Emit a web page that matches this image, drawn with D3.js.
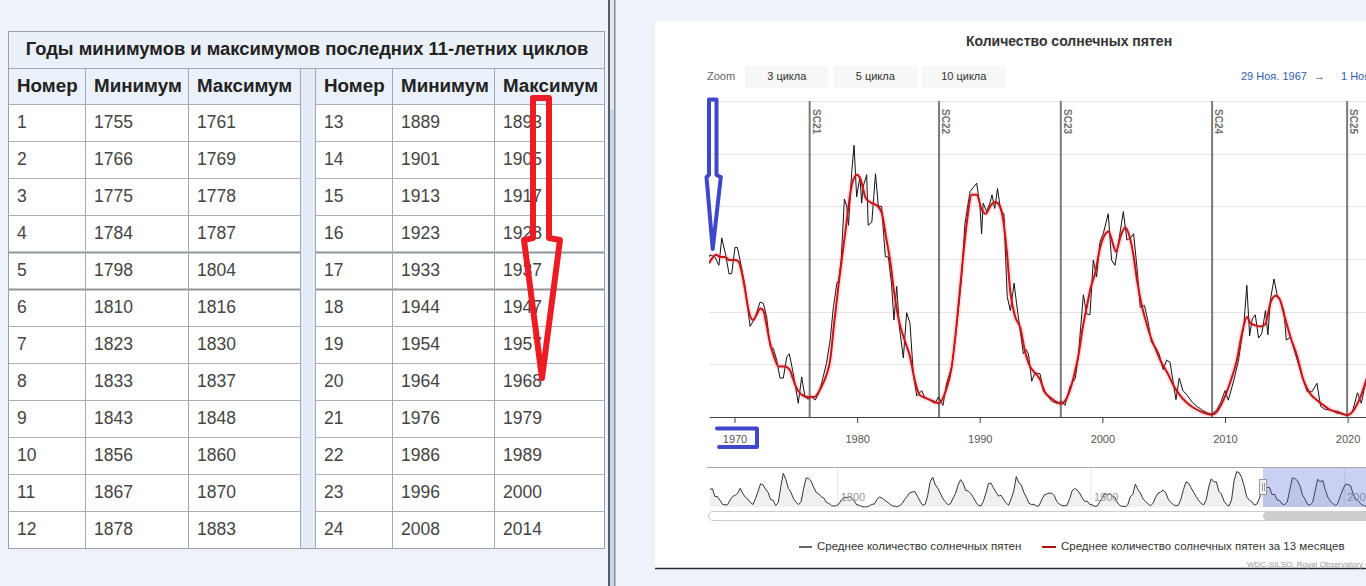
<!DOCTYPE html>
<html><head><meta charset="utf-8">
<script src="https://cdn.jsdelivr.net/npm/d3@7"></script>
<style>
html,body{margin:0;padding:0;background:#eef3fa;overflow:hidden}
svg{display:block}
text{font-family:"Liberation Sans",Arial,sans-serif}
</style></head><body>
<svg id="c" width="1366" height="586"></svg>
<script>
// ---------------- DATA ----------------
const tableTitle = "Годы минимумов и максимумов последних 11-летних циклов";
const tableHeaders = ["Номер", "Минимум", "Максимум"];
const cycleNumbers = [1,2,3,4,5,6,7,8,9,10,11,12,13,14,15,16,17,18,19,20,21,22,23,24];
const cycleMinima = [1755,1766,1775,1784,1798,1810,1823,1833,1843,1856,1867,1878,1889,1901,1913,1923,1933,1944,1954,1964,1976,1986,1996,2008];
const cycleMaxima = [1761,1769,1778,1787,1804,1816,1830,1837,1848,1860,1870,1883,1893,1905,1917,1928,1937,1947,1957,1968,1979,1989,2000,2014];

const chartTitle = "Количество солнечных пятен";
const zoomButtons = ["3 цикла", "5 цикла", "10 цикла"];
const rangeFrom = "29 Ноя. 1967";
const rangeTo = "1 Ноя. 2021";
const seriesNames = ["Среднее количество солнечных пятен", "Среднее количество солнечных пятен за 13 месяцев"];
const xTicks = [1970, 1980, 1990, 2000, 2010, 2020];
const yGrid = [50, 100, 150, 200, 250, 300];
const cycleLabels = ["SC21", "SC22", "SC23", "SC24", "SC25"];
const cycleStarts = [1976.13, 1986.68, 1996.61, 2008.95, 2019.96];
const navTicks = [1800, 1900, 2000];

// monthly mean (grouped) sunspot number: [year, value]
const meanSeries = [
[1967.92,152],[1968.0,154],[1968.4,152],[1968.73,144],[1968.96,170],[1969.28,154],[1969.55,136],[1969.77,136],
[1970.04,161],[1970.23,161],[1970.45,149],[1970.86,124],[1971.27,86],[1971.67,94],[1972.08,109],[1972.35,108],
[1972.62,95],[1972.9,67],[1973.17,65],[1973.44,54],[1973.71,37],[1973.98,37],[1974.26,57],[1974.47,60],
[1974.8,41],[1975.2,13],[1975.48,38],[1975.75,19],[1976.0,17],[1976.3,19],[1976.57,16],[1976.85,22],
[1977.1,32],[1977.5,51],[1977.8,73],[1978.07,105],[1978.35,127],[1978.5,130],[1978.7,149],[1978.96,207],
[1979.15,200],[1979.3,182],[1979.55,231],[1979.75,258],[1979.96,209],[1980.23,228],[1980.37,203],[1980.5,219],
[1980.78,230],[1980.9,182],[1981.2,185],[1981.5,231],[1981.73,200],[1982.0,200],[1982.3,152],[1982.55,152],
[1982.8,127],[1983.0,92],[1983.23,124],[1983.44,86],[1983.77,56],[1984.04,99],[1984.31,89],[1984.58,41],
[1984.86,20],[1985.27,25],[1985.5,19],[1985.9,16],[1986.35,13],[1986.63,19],[1987.0,11],[1987.3,32],
[1987.72,48],[1988.12,86],[1988.5,130],[1988.8,184],[1989.21,214],[1989.48,218],[1989.75,222],[1990.02,200],
[1990.15,174],[1990.28,203],[1990.56,195],[1990.83,203],[1991.0,211],[1991.22,198],[1991.45,217],[1991.7,196],
[1991.97,193],[1992.24,114],[1992.5,101],[1992.8,127],[1993.0,108],[1993.29,83],[1993.56,60],[1993.78,64],
[1993.97,60],[1994.24,34],[1994.51,42],[1994.92,41],[1995.2,24],[1995.47,21],[1995.87,15],[1996.28,13],
[1996.68,15],[1996.95,11],[1997.36,29],[1997.8,37],[1998.04,58],[1998.45,116],[1998.72,98],[1998.99,97],
[1999.26,149],[1999.53,133],[1999.8,166],[2000.07,174],[2000.48,193],[2000.75,149],[2001.03,144],[2001.35,168],
[2001.71,195],[2002.0,168],[2002.3,170],[2002.55,174],[2002.82,142],[2003.09,104],[2003.43,106],[2003.7,92],
[2004.0,71],[2004.35,66],[2004.62,60],[2004.96,45],[2005.24,54],[2005.52,52],[2005.76,34],[2006.0,16.5],
[2006.27,37],[2006.57,25],[2006.9,21],[2007.33,14],[2007.73,10],[2008.14,6.5],[2008.55,4],[2008.92,2.5],
[2009.32,6.6],[2009.66,14],[2010.0,25],[2010.27,16],[2010.68,33],[2011.09,53],[2011.37,75],[2011.55,89],
[2011.78,125],[2012.01,77],[2012.22,93],[2012.47,97],[2012.74,75],[2013.0,79],[2013.3,101],[2013.5,78],
[2013.7,111],[2014.0,131],[2014.25,116],[2014.5,111],[2014.8,101],[2015.0,73],[2015.34,76],[2015.74,60],
[2016.3,38],[2016.7,24],[2017.1,24],[2017.5,32],[2017.8,10],[2018.2,7],[2018.6,7],[2019.15,3.5],
[2019.56,3.5],[2019.97,1],[2020.4,5],[2020.8,23],[2021.12,13],[2021.5,35],[2021.75,45]
];

// 13-month smoothed sunspot number: [year, value]
const smoothSeries = [
[1967.92,146],[1968.2,151],[1968.5,154],[1968.8,152],[1969.2,152],[1969.6,149],[1970.0,149],[1970.3,148],
[1970.6,137],[1970.9,118],[1971.1,104],[1971.5,92],[1971.8,97],[1972.1,103],[1972.35,101],[1972.6,88],
[1972.9,70],[1973.2,58],[1973.6,48],[1974.1,48],[1974.5,45],[1974.75,37],[1975.0,29],[1975.5,21],
[1976.0,19],[1976.5,19],[1977.1,29],[1977.5,40],[1977.8,54],[1978.1,86],[1978.5,127],[1979.05,177],
[1979.6,222],[1980.0,230],[1980.3,225],[1980.7,208],[1981.2,203],[1981.6,201],[1982.0,194],[1982.4,168],
[1982.7,148],[1983.0,120],[1983.4,92],[1983.9,72],[1984.3,58],[1984.7,35],[1985.1,21],[1985.6,18],
[1986.2,15],[1986.68,13],[1987.2,24],[1987.72,48],[1988.12,89],[1988.5,135],[1988.94,184],[1989.35,211],
[1989.75,211],[1990.16,197],[1990.5,193],[1990.85,200],[1991.25,204],[1991.55,202],[1991.9,188],[1992.2,158],
[1992.5,118],[1992.9,95],[1993.3,85],[1993.7,62],[1994.1,48],[1994.5,42],[1994.9,36],[1995.3,24],
[1995.8,18],[1996.3,14],[1996.6,12.5],[1997.1,18],[1997.4,27],[1997.7,40],[1998.04,58],[1998.4,85],
[1998.72,104],[1999.1,125],[1999.4,136],[1999.8,160],[2000.2,173],[2000.5,176],[2000.9,163],[2001.1,157],
[2001.5,172],[2001.85,180],[2002.2,172],[2002.5,156],[2002.85,128],[2003.25,104],[2003.6,89],[2004.0,74],
[2004.4,63],[2004.8,52],[2005.3,42],[2005.8,30],[2006.3,21],[2006.85,14],[2007.4,9],[2007.95,5.5],
[2008.5,3],[2008.92,2.2],[2009.33,5],[2009.87,16],[2010.4,32],[2010.97,54],[2011.38,79],[2011.8,95],
[2012.07,89],[2012.47,87],[2012.88,86],[2013.28,88],[2013.7,108],[2014.1,115],[2014.3,114],[2014.5,111],
[2014.8,98],[2015.34,76],[2015.9,57],[2016.4,35],[2016.96,22],[2017.5,16],[2018.05,11],[2018.6,6.6],
[2019.15,5],[2019.7,2.5],[2020.0,1.8],[2020.5,6.6],[2021.05,19],[2021.5,34],[2021.75,42]
];

// navigator: yearly mean sunspot number from 1749
const navStartYear = 1749;
const navValues = [
134.7,139.0,79.5,79.7,51.2,20.3,16.0,17.0,54.0,79.3,90.0,
104.8,143.2,102.0,75.2,60.7,34.8,19.0,63.0,116.3,176.8,
168.0,136.0,110.8,58.0,51.0,11.7,33.0,154.2,257.3,209.8,
141.3,113.5,64.2,38.0,17.0,40.2,138.2,220.0,218.2,196.8,
149.8,111.0,100.0,78.2,68.3,35.5,26.7,10.7,6.8,11.3,
24.2,56.7,75.0,71.8,79.2,70.3,46.8,16.8,13.5,4.2,
0.0,2.3,8.3,20.3,23.2,59.0,76.3,68.3,52.9,38.5,
24.2,9.2,6.3,2.2,11.4,28.2,59.9,83.0,108.5,115.2,
117.4,80.8,44.3,13.4,19.5,85.8,192.7,227.3,168.7,143.0,
105.5,63.3,40.3,18.1,25.1,65.8,102.7,166.3,208.3,182.5,
126.3,122.0,102.7,74.1,39.0,12.7,8.2,43.4,104.4,178.3,
182.2,146.6,112.1,83.5,89.2,57.8,30.7,13.9,62.8,123.6,
232.0,185.3,169.2,110.1,74.5,28.3,18.9,20.7,5.7,10.0,
53.7,90.5,99.0,106.1,105.8,86.3,42.4,21.8,11.2,10.4,
11.8,59.5,121.7,142.0,130.0,106.6,69.4,43.8,44.4,20.2,
15.7,4.6,8.5,40.8,70.1,105.5,90.1,102.8,80.9,73.2,
30.9,9.5,6.0,2.4,16.1,79.0,95.0,173.6,134.6,105.7,
62.7,43.5,23.7,9.7,27.9,74.0,106.5,114.7,129.7,108.2,
59.4,35.1,18.6,9.2,14.6,60.2,132.8,190.6,182.6,148.0,
113.0,79.2,50.8,27.1,16.1,55.3,154.3,214.7,193.0,190.7,
118.9,98.3,45.0,20.1,6.6,54.2,200.7,269.3,261.7,225.1,
159.0,76.4,53.4,39.9,15.0,22.0,66.8,132.9,150.0,149.4,
148.0,94.4,97.6,54.1,49.2,22.5,18.4,39.3,131.0,220.1,
218.9,198.9,162.4,91.0,60.5,20.6,14.8,33.9,123.0,211.1,
191.8,203.3,133.0,76.1,44.9,25.1,11.6,28.9,88.3,136.3,
173.9,170.4,163.6,99.3,65.3,45.8,24.7,12.6,4.2,4.8,
24.9,80.8,84.5,94.0,113.3,69.8,39.8,21.7,7.0,3.6,
8.8,29.6
];
const viewStart = 1967.92, viewEnd = 2021.5;

// hand-drawn annotation overlays (screen pixels)
const redArrow = [[533,98],[549,98],[549,238],[560,240],[542,378],[524,240],[533,238]];
const blueArrow = [[709,99.5],[716.5,99.5],[716.5,175],[720.8,177],[712.7,249],[706.5,177],[709,175]];
const blueBracket = [[717,428.5],[757,428.5],[757,447],[719,447]];

// ---------------- DRAW ----------------
const W = 1366, H = 586;
const svg = d3.select("#c");
svg.append("rect").attr("width", W).attr("height", H).attr("fill", "#eef3fa");

// ---- Table ----
const T = {left: 8, right: 604, top: 31, titleB: 68, headB: 104, rowH: 37};
const groups = [{cols: [8, 85, 188, 300], off: 0}, {cols: [315, 392, 494, 604], off: 12}];
const tg = svg.append("g");
const bottom = T.headB + 12 * T.rowH;
tg.append("rect").attr("x", T.left).attr("y", T.top).attr("width", T.right - T.left).attr("height", T.titleB - T.top).attr("fill", "#eaf0f8");
tg.append("rect").attr("x", 300).attr("y", T.titleB).attr("width", 15).attr("height", bottom - T.titleB).attr("fill", "#e3ecf8");
groups.forEach(g => {
  const c = g.cols, a = c[0], d = c[3];
  tg.append("rect").attr("x", a).attr("y", T.titleB).attr("width", d - a).attr("height", T.headB - T.titleB).attr("fill", "#eaf1fb");
  tg.append("rect").attr("x", a).attr("y", T.headB).attr("width", d - a).attr("height", bottom - T.headB).attr("fill", "#fff");
  for (let i = 0; i <= 12; i++) {
    const yy = T.headB + T.rowH * i;
    const thick = (i === 4 || i === 5);
    tg.append("line").attr("x1", a).attr("x2", d).attr("y1", yy + 0.5).attr("y2", yy + 0.5)
      .attr("stroke", thick ? "#8f959c" : "#a9b0b8").attr("stroke-width", thick ? 2 : 1);
  }
  c.forEach(cx => tg.append("line").attr("x1", cx + 0.5).attr("x2", cx + 0.5).attr("y1", T.titleB).attr("y2", bottom)
    .attr("stroke", "#a2a9b1"));
  tableHeaders.forEach((h, j) => tg.append("text").attr("x", c[j] + 9).attr("y", (T.titleB + T.headB) / 2 + 1)
    .attr("dominant-baseline", "middle").attr("font-size", 18.8).attr("font-weight", "bold").attr("fill", "#222").text(h));
  for (let i = 0; i < 12; i++) {
    const r = g.off + i;
    const vals = [cycleNumbers[r], cycleMinima[r], cycleMaxima[r]];
    vals.forEach((v, j) => tg.append("text").attr("x", c[j] + 9).attr("y", T.headB + T.rowH * i + T.rowH / 2 + 1)
      .attr("dominant-baseline", "middle").attr("font-size", 17.5).attr("fill", "#444").text(v));
  }
});
tg.append("line").attr("x1", T.left).attr("x2", T.right).attr("y1", T.titleB + 0.5).attr("y2", T.titleB + 0.5).attr("stroke", "#a2a9b1");
tg.append("rect").attr("x", T.left + 0.5).attr("y", T.top + 0.5).attr("width", T.right - T.left).attr("height", bottom - T.top)
  .attr("fill", "none").attr("stroke", "#9aa1a9");
tg.append("text").attr("x", (T.left + T.right) / 2 + 1).attr("y", (T.top + T.titleB) / 2 + 1).attr("text-anchor", "middle")
  .attr("dominant-baseline", "middle").attr("font-size", 18.4).attr("font-weight", "bold").attr("fill", "#222").text(tableTitle);

// ---- window separator ----
svg.append("rect").attr("x", 608).attr("y", 0).attr("width", 2).attr("height", H).attr("fill", "#5c5c5c");
svg.append("rect").attr("x", 610).attr("y", 0).attr("width", 4).attr("height", H).attr("fill", "#dde7f5");
svg.append("rect").attr("x", 610).attr("y", 110).attr("width", 4).attr("height", H - 110).attr("fill", "#c6d6ee");
svg.append("rect").attr("x", 614).attr("y", 0).attr("width", 1.5).attr("height", H).attr("fill", "#8a8a8a");

// ---- chart box ----
svg.append("rect").attr("x", 655).attr("y", 21).attr("width", W - 655).attr("height", 547).attr("fill", "#fff");
svg.append("line").attr("x1", 655).attr("x2", W).attr("y1", 568.5).attr("y2", 568.5).attr("stroke", "#2a2a2a").attr("stroke-width", 1.5);

svg.append("text").attr("x", 1069).attr("y", 42).attr("text-anchor", "middle").attr("dominant-baseline", "middle")
  .attr("font-size", 14).attr("font-weight", "bold").attr("fill", "#333").text(chartTitle);

// range selector
svg.append("text").attr("x", 707).attr("y", 77).attr("dominant-baseline", "middle").attr("font-size", 11).attr("fill", "#666").text("Zoom");
const btnX = [745, 833.5, 922];
zoomButtons.forEach((b, i) => {
  svg.append("rect").attr("x", btnX[i]).attr("y", 66).attr("width", 83.5).attr("height", 22).attr("fill", "#f7f7f7");
  svg.append("text").attr("x", btnX[i] + 41.75).attr("y", 77).attr("text-anchor", "middle").attr("dominant-baseline", "middle")
    .attr("font-size", 11).attr("fill", "#333").text(b);
});
svg.append("text").attr("x", 1241).attr("y", 77).attr("dominant-baseline", "middle").attr("font-size", 11).attr("fill", "#335cad").text(rangeFrom);
svg.append("text").attr("x", 1314).attr("y", 77).attr("dominant-baseline", "middle").attr("font-size", 11).attr("fill", "#444").text("→");
svg.append("text").attr("x", 1341).attr("y", 77).attr("dominant-baseline", "middle").attr("font-size", 11).attr("fill", "#335cad").text(rangeTo);

// scales
const x = d3.scaleLinear().domain([viewStart, viewEnd]).range([709, 1366]);
const y = d3.scaleLinear().domain([0, 300]).range([417, 101]);

svg.append("clipPath").attr("id", "plotClip").append("rect").attr("x", 709).attr("y", 90).attr("width", 660).attr("height", 335);

// grid
svg.append("g").selectAll("line").data(yGrid).join("line")
  .attr("x1", 709).attr("x2", W).attr("y1", d => Math.round(y(d)) + 0.5).attr("y2", d => Math.round(y(d)) + 0.5)
  .attr("stroke", "#e3e3e3");

// cycle lines
const cl = svg.append("g");
cl.selectAll("line").data(cycleStarts).join("line")
  .attr("x1", d => x(d)).attr("x2", d => x(d)).attr("y1", y(300)).attr("y2", y(0))
  .attr("stroke", "#7a7a7a").attr("stroke-width", 2);
cl.selectAll("text").data(cycleStarts).join("text")
  .attr("transform", d => `translate(${x(d) + 3},109) rotate(90)`)
  .attr("font-size", 10).attr("font-weight", "bold").attr("fill", "#707070")
  .text((d, i) => cycleLabels[i]);

// axis
const ax = svg.append("g").attr("transform", "translate(0,417)")
  .call(d3.axisBottom(x).tickValues(xTicks).tickFormat(d3.format("d")).tickSize(6).tickSizeOuter(0).tickPadding(12));
ax.select(".domain").attr("stroke", "#444");
ax.selectAll(".tick line").attr("stroke", "#444");
ax.selectAll(".tick text").attr("font-size", 11).attr("fill", "#555").attr("font-family", '"Liberation Sans", Arial, sans-serif');

// series
const lineGen = d3.line().x(d => x(d[0])).y(d => y(d[1]));
svg.append("path").datum(meanSeries).attr("clip-path", "url(#plotClip)").attr("d", lineGen)
  .attr("fill", "none").attr("stroke", "#111").attr("stroke-width", 1).attr("stroke-linejoin", "round");
const smoothGen = d3.line().x(d => x(d[0])).y(d => y(d[1])).curve(d3.curveMonotoneX);
svg.append("path").datum(smoothSeries).attr("clip-path", "url(#plotClip)").attr("d", smoothGen)
  .attr("fill", "none").attr("stroke", "rgba(255,60,60,0.16)").attr("stroke-width", 5.5).attr("stroke-linejoin", "round");
svg.append("path").datum(smoothSeries).attr("clip-path", "url(#plotClip)").attr("d", smoothGen)
  .attr("fill", "none").attr("stroke", "#c4161c").attr("stroke-width", 2).attr("stroke-linejoin", "round");

// navigator
const nx = d3.scaleLinear().domain([1900, 2000]).range([1091, 1344.25]);
const ny = d3.scaleLinear().domain([0, 305]).range([507, 467]);
const navData = navValues.map((v, i) => [navStartYear + i + 0.5, v]);
svg.append("clipPath").attr("id", "navClip").append("rect").attr("x", 707).attr("y", 460).attr("width", 662).attr("height", 50);
const ng = svg.append("g").attr("clip-path", "url(#navClip)");
ng.selectAll("line.g").data(navTicks).join("line").attr("class", "g")
  .attr("x1", d => nx(d)).attr("x2", d => nx(d)).attr("y1", 467).attr("y2", 507).attr("stroke", "#e6e6e6");
ng.append("path").datum(navData).attr("d", d3.area().x(d => nx(d[0])).y0(507).y1(d => ny(d[1])))
  .attr("fill", "rgba(0,0,0,0.06)");
ng.append("path").datum(navData).attr("d", d3.line().x(d => nx(d[0])).y(d => ny(d[1])))
  .attr("fill", "none").attr("stroke", "#333").attr("stroke-width", 1);
ng.selectAll("text").data(navTicks).join("text").attr("x", d => nx(d) + 3).attr("y", 501)
  .attr("font-size", 11).attr("fill", "#999").text(d => d);
ng.append("rect").attr("x", nx(viewStart)).attr("y", 467).attr("width", 200).attr("height", 40).attr("fill", "rgba(80,100,220,0.3)");
svg.append("line").attr("x1", 707).attr("x2", W).attr("y1", 467.5).attr("y2", 467.5).attr("stroke", "#a8a8a8");
svg.append("rect").attr("x", nx(viewStart) - 3.5).attr("y", 479.5).attr("width", 7).attr("height", 15)
  .attr("fill", "#f2f2f2").attr("stroke", "#999");
[-1, 1].forEach(o => svg.append("line").attr("x1", nx(viewStart) + o + 0.5).attr("x2", nx(viewStart) + o + 0.5)
  .attr("y1", 483).attr("y2", 491).attr("stroke", "#999"));
// scrollbar
svg.append("rect").attr("x", 708.5).attr("y", 511.5).attr("width", 720).attr("height", 9).attr("rx", 4.5)
  .attr("fill", "#fff").attr("stroke", "#ccc");
svg.append("rect").attr("x", nx(viewStart)).attr("y", 511.5).attr("width", 200).attr("height", 9).attr("rx", 4.5)
  .attr("fill", "#cdcdcd");

// legend
svg.append("line").attr("x1", 799).attr("x2", 812).attr("y1", 547).attr("y2", 547).attr("stroke", "#666").attr("stroke-width", 2);
svg.append("text").attr("x", 817).attr("y", 547).attr("dominant-baseline", "middle").attr("font-size", 11.5).attr("fill", "#333").text(seriesNames[0]);
svg.append("line").attr("x1", 1042).attr("x2", 1056).attr("y1", 547).attr("y2", 547).attr("stroke", "#b01010").attr("stroke-width", 2);
svg.append("text").attr("x", 1061).attr("y", 547).attr("dominant-baseline", "middle").attr("font-size", 11.5).attr("fill", "#333").text(seriesNames[1]);
svg.append("text").attr("x", 1247).attr("y", 566.5).attr("font-size", 8).attr("fill", "#999").text("WDC-SILSO, Royal Observatory of Belgium, Brussels");

// annotations
const poly = d3.line().curve(d3.curveLinearClosed);
svg.append("path").attr("d", poly(redArrow)).attr("fill", "none").attr("stroke", "#ED1C24").attr("stroke-width", 6).attr("stroke-linejoin", "round");
svg.append("path").attr("d", poly(blueArrow)).attr("fill", "none").attr("stroke", "#3F48CC").attr("stroke-width", 4).attr("stroke-linejoin", "round");
svg.append("path").attr("d", d3.line()(blueBracket)).attr("fill", "none").attr("stroke", "#3F48CC").attr("stroke-width", 4)
  .attr("stroke-linejoin", "round").attr("stroke-linecap", "round");
</script>
</body></html>
